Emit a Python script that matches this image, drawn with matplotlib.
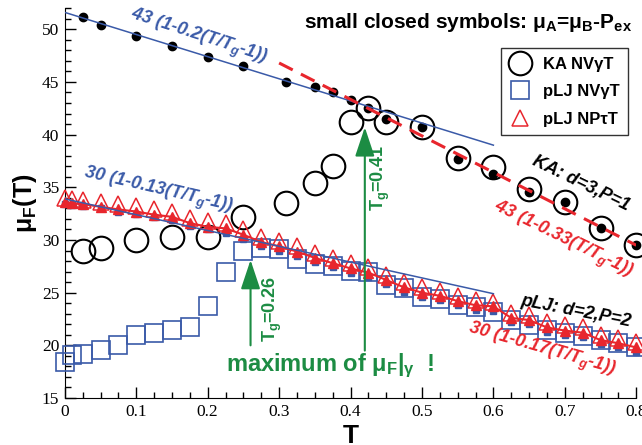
import matplotlib
matplotlib.use('Agg')
import matplotlib.pyplot as plt
from matplotlib.ticker import MultipleLocator

plt.rcParams['font.family'] = ['Liberation Sans', 'DejaVu Sans']
plt.rcParams['mathtext.default'] = 'regular'

blue = '#3a5aa8'
red = '#e8262d'
green = '#1c8c43'

# ---- data ----
# KA NVgT, open circles
ka_T = [0.025, 0.05, 0.1, 0.15, 0.2, 0.25, 0.31, 0.35, 0.375, 0.4, 0.425, 0.45,
        0.5, 0.55, 0.6, 0.65, 0.7, 0.75, 0.8]
ka_mu = [29.0, 29.2, 30.0, 30.3, 30.3, 32.2, 33.5, 35.4, 37.0, 41.2, 42.5, 41.2,
         40.7, 37.8, 36.9, 34.8, 33.6, 31.1, 29.5]
# KA, small closed symbols (mu_A = mu_B - P_ex)
ka_mu_ex = [51.15, 50.4, 49.35, 48.4, 47.35, 46.5, 45.0, 44.5, 44.0, 43.3, 42.5, 41.5,
            40.7, 37.7, 36.3, 34.6, 33.6, 31.1, 29.5]

# pLJ grid
plj_T = [0.0, 0.01, 0.025, 0.05, 0.075, 0.1, 0.125, 0.15, 0.175, 0.2, 0.225, 0.25,
         0.275, 0.3, 0.325, 0.35, 0.375, 0.4, 0.425, 0.45, 0.475, 0.5, 0.525, 0.55,
         0.575, 0.6, 0.625, 0.65, 0.675, 0.7, 0.725, 0.75, 0.775, 0.8]
# pLJ NVgT, open squares
nvg_mu = [18.4, 19.1, 19.2, 19.6, 20.0, 21.0, 21.2, 21.5, 21.7, 23.7, 27.0, 29.0,
          29.2, 29.1, 28.2, 27.7, 27.5, 27.1, 27.0, 25.7, 25.4, 24.6, 24.4, 23.8,
          23.6, 23.2, 22.4, 21.9, 21.5, 21.2, 20.9, 20.5, 20.2, 19.8]
nvg_mu_ex = [33.4, 33.3, 33.2, 33.0, 32.7, 32.5, 32.2, 31.9, 31.3, 31.0, 30.7, 30.1,
             29.4, 29.0, 28.5, 27.9, 27.4, 26.9, 26.5, 25.8, 25.1, 24.6, 24.3, 23.8,
             23.4, 23.3, 22.2, 22.0, 21.3, 21.0, 20.8, 20.1, 19.8, 19.4]
# pLJ NPtT, open triangles
npt_mu = [34.0, 33.9, 33.8, 33.6, 33.4, 33.2, 32.9, 32.7, 32.1, 31.8, 31.6, 31.0,
          30.3, 29.9, 29.4, 28.8, 28.3, 27.8, 27.4, 26.7, 26.0, 25.5, 25.2, 24.7,
          24.3, 24.1, 23.1, 22.9, 22.2, 21.9, 21.7, 21.0, 20.7, 20.3]
npt_mu_ex = [33.6, 33.5, 33.4, 33.15, 32.9, 32.7, 32.4, 32.2, 31.6, 31.25, 31.1, 30.5,
             29.8, 29.4, 28.9, 28.3, 27.8, 27.3, 26.9, 26.2, 25.5, 25.0, 24.7, 24.2,
             23.8, 23.7, 22.6, 22.4, 21.7, 21.4, 21.2, 20.5, 20.2, 19.8]

# straight fit lines (end points)
fit1_T, fit1_mu = [0.0, 0.6], [51.6, 39.0]     # 43 (1-0.2(T/Tg-1))
fit2_T, fit2_mu = [0.3, 0.8], [46.8, 29.5]     # 43 (1-0.33(T/Tg-1))
fit3_T, fit3_mu = [0.0, 0.6], [33.9, 24.9]     # 30 (1-0.13(T/Tg-1))

fig = plt.figure(figsize=(6.42, 4.45), dpi=100)
ax = fig.add_axes([0.101, 0.1056, 0.89, 0.876])

ax.plot(ka_T, ka_mu, 'o', ms=17, mfc='none', mec='black', mew=1.5,
        label='KA NV\u03b3T', clip_on=False, zorder=3)
ax.plot(plj_T, nvg_mu, 's', ms=13, mfc='none', mec=blue, mew=1.2,
        label='pLJ NV\u03b3T', clip_on=False, zorder=3)
ax.plot(plj_T, npt_mu, '^', ms=12, mfc='none', mec=red, mew=1.1,
        label='pLJ NP\u03c4T', clip_on=False, zorder=4)
ax.plot(plj_T, nvg_mu_ex, 's', ms=4.5, color=blue, clip_on=False, zorder=5)
ax.plot(plj_T, npt_mu_ex, '^-', ms=7, color=red, lw=1.5, clip_on=False, zorder=6)
ax.plot(ka_T, ka_mu_ex, 'o', ms=6, color='black', clip_on=False, zorder=6)

ax.plot(fit1_T, fit1_mu, '-', color=blue, lw=1.1, zorder=7)
ax.plot(fit3_T, fit3_mu, '-', color=blue, lw=1.1, zorder=7)
ax.plot(fit2_T, fit2_mu, '--', color=red, lw=2.2, dashes=(5, 3), zorder=7)

ax.set_xlim(0, 0.8)
ax.set_ylim(15, 52)
ax.spines['top'].set_visible(False)
ax.spines['right'].set_visible(False)
ax.xaxis.set_major_locator(MultipleLocator(0.1))
ax.xaxis.set_minor_locator(MultipleLocator(0.025))
ax.yaxis.set_major_locator(MultipleLocator(5))
ax.yaxis.set_minor_locator(MultipleLocator(1))
ax.tick_params(which='both', direction='in', width=1)
ax.tick_params(which='major', length=8, pad=4)
ax.tick_params(which='minor', length=4)
ax.set_xticks([0, 0.1, 0.2, 0.3, 0.4, 0.5, 0.6, 0.7, 0.8])
ax.set_xticklabels(['0', '0.1', '0.2', '0.3', '0.4', '0.5', '0.6', '0.7', '0.8'])
for lab in ax.get_xticklabels() + ax.get_yticklabels():
    lab.set_fontfamily('Liberation Serif')
    lab.set_fontsize(12.5)

ax.set_xlabel('T', fontsize=19, fontweight='bold', labelpad=3)
ax.set_ylabel(r'$\mu_F$(T)', fontsize=18, fontweight='bold', labelpad=2)

leg = ax.legend(loc='upper right', bbox_to_anchor=(1.0, 0.918),
                prop={'weight': 'bold', 'size': 12}, frameon=True, fancybox=False,
                edgecolor='black', handletextpad=0.8, borderpad=0.5, labelspacing=0.75,
                handlelength=1.2)
leg.get_frame().set_linewidth(1.0)

fig.text(0.985, 0.95, r'small closed symbols: $\mu_A$=$\mu_B$-P$_{ex}$',
         ha='right', va='center', fontsize=15, fontweight='bold')

# fit labels
tkw = dict(fontweight='bold', style='italic', ha='center', va='center',
           rotation_mode='anchor', fontsize=13)
ax.text(0.188, 49.3, '43 (1-0.2(T/T$_g$-1))', color=blue, rotation=-18, **tkw)
ax.text(0.130, 34.7, '30 (1-0.13(T/T$_g$-1))', color=blue, rotation=-13, **tkw)
ax.text(0.697, 30.0, '43 (1-0.33(T/T$_g$-1))', color=red, rotation=-26, **tkw)
ax.text(0.667, 19.55, '30 (1-0.17(T/T$_g$-1))', color=red, rotation=-16, **tkw)
ax.text(0.723, 35.4, 'KA: d=3,P=1', color='black', rotation=-26, **tkw)
ax.text(0.716, 23.25, 'pLJ: d=2,P=2', color='black', rotation=-11, **tkw)

# glass transition arrows
akw = dict(arrowstyle='-|>,head_length=0.9,head_width=0.3', color=green,
           lw=1.5, mutation_scale=20, shrinkA=0, shrinkB=0)
ax.annotate('', xy=(0.42, 40.7), xytext=(0.42, 19.5), arrowprops=akw, zorder=8)
ax.annotate('', xy=(0.26, 28.1), xytext=(0.26, 20.0), arrowprops=akw, zorder=8)
ax.text(0.442, 35.9, 'T$_g$=0.41', color=green, rotation=90, fontsize=13,
        fontweight='bold', ha='center', va='center')
ax.text(0.291, 23.5, 'T$_g$=0.26', color=green, rotation=90, fontsize=13,
        fontweight='bold', ha='center', va='center')
ax.text(0.371, 18.1, r'maximum of $\mu_F|_\gamma$  !', color=green, fontsize=17,
        fontweight='bold', ha='center', va='center')

fig.savefig('out.png', dpi=100)
